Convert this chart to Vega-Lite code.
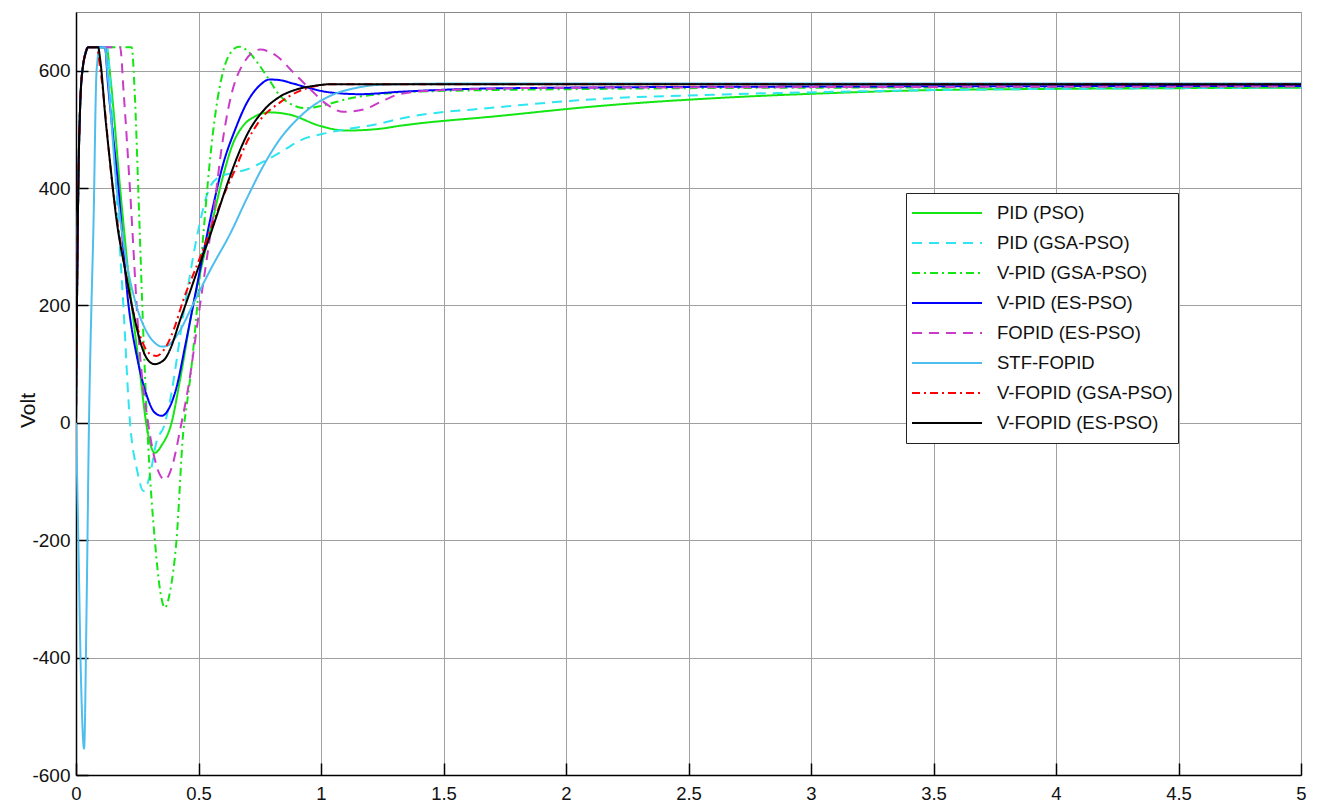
{
  "$schema": "https://vega.github.io/schema/vega-lite/v6.json",
  "width": 1225,
  "height": 763,
  "autosize": {"type": "none"},
  "padding": {"left": 76, "top": 12, "right": 18, "bottom": 30},
  "background": "white",
  "config": {
    "font": "Liberation Sans",
    "view": {"stroke": "#888888", "strokeWidth": 1},
    "axis": {
      "grid": true,
      "gridColor": "#a0a0a0",
      "gridWidth": 1,
      "gridOpacity": 1,
      "domainColor": "#000000",
      "domainWidth": 1.5,
      "tickColor": "#000000",
      "tickSize": -12,
      "tickWidth": 1.5,
      "labelFontSize": 19,
      "labelColor": "#111111",
      "labelFont": "Liberation Sans",
      "labelExpr": "'' + datum.value"
    },
    "legend": {
      "orient": "none",
      "legendX": 830,
      "legendY": 181,
      "strokeColor": "#222222",
      "fillColor": "white",
      "padding": 5,
      "symbolType": "stroke",
      "symbolSize": 4900,
      "symbolStrokeWidth": 2,
      "labelFontSize": 18.5,
      "labelFont": "Liberation Sans",
      "labelColor": "#111111",
      "labelOffset": 14,
      "labelLimit": 400,
      "clipHeight": 30,
      "rowPadding": 0,
      "title": null
    }
  },
  "data": {
    "values": [
      {"t": 0, "v": 0, "s": "PID (PSO)"}, {"t": 0.005, "v": 250, "s": "PID (PSO)"}, {"t": 0.01, "v": 420, "s": "PID (PSO)"}, {"t": 0.017, "v": 540, "s": "PID (PSO)"}, {"t": 0.027, "v": 603, "s": "PID (PSO)"}, {"t": 0.05, "v": 640, "s": "PID (PSO)"}, {"t": 0.125, "v": 640, "s": "PID (PSO)"}, {"t": 0.14, "v": 590, "s": "PID (PSO)"}, {"t": 0.18, "v": 400, "s": "PID (PSO)"}, {"t": 0.227, "v": 202, "s": "PID (PSO)"}, {"t": 0.26, "v": 90, "s": "PID (PSO)"}, {"t": 0.29, "v": -10, "s": "PID (PSO)"}, {"t": 0.322, "v": -51, "s": "PID (PSO)"}, {"t": 0.35, "v": -38, "s": "PID (PSO)"}, {"t": 0.39, "v": 0, "s": "PID (PSO)"}, {"t": 0.424, "v": 72, "s": "PID (PSO)"}, {"t": 0.478, "v": 200, "s": "PID (PSO)"}, {"t": 0.52, "v": 280, "s": "PID (PSO)"}, {"t": 0.56, "v": 350, "s": "PID (PSO)"}, {"t": 0.6, "v": 420, "s": "PID (PSO)"}, {"t": 0.64, "v": 475, "s": "PID (PSO)"}, {"t": 0.68, "v": 505, "s": "PID (PSO)"}, {"t": 0.73, "v": 522, "s": "PID (PSO)"}, {"t": 0.79, "v": 529, "s": "PID (PSO)"}, {"t": 0.873, "v": 525, "s": "PID (PSO)"}, {"t": 0.996, "v": 506, "s": "PID (PSO)"}, {"t": 1.1, "v": 498, "s": "PID (PSO)"}, {"t": 1.24, "v": 501, "s": "PID (PSO)"}, {"t": 1.32, "v": 506, "s": "PID (PSO)"}, {"t": 1.73, "v": 523, "s": "PID (PSO)"}, {"t": 2.14, "v": 540, "s": "PID (PSO)"}, {"t": 2.6, "v": 553, "s": "PID (PSO)"}, {"t": 3.09, "v": 562, "s": "PID (PSO)"}, {"t": 3.5, "v": 567, "s": "PID (PSO)"}, {"t": 4, "v": 569, "s": "PID (PSO)"}, {"t": 5, "v": 571, "s": "PID (PSO)"},

      {"t": 0, "v": 0, "s": "PID (GSA-PSO)"}, {"t": 0.005, "v": 250, "s": "PID (GSA-PSO)"}, {"t": 0.01, "v": 420, "s": "PID (GSA-PSO)"}, {"t": 0.017, "v": 540, "s": "PID (GSA-PSO)"}, {"t": 0.027, "v": 603, "s": "PID (GSA-PSO)"}, {"t": 0.05, "v": 640, "s": "PID (GSA-PSO)"}, {"t": 0.125, "v": 640, "s": "PID (GSA-PSO)"}, {"t": 0.14, "v": 580, "s": "PID (GSA-PSO)"}, {"t": 0.16, "v": 430, "s": "PID (GSA-PSO)"}, {"t": 0.193, "v": 202, "s": "PID (GSA-PSO)"}, {"t": 0.22, "v": 3, "s": "PID (GSA-PSO)"}, {"t": 0.25, "v": -82, "s": "PID (GSA-PSO)"}, {"t": 0.275, "v": -116, "s": "PID (GSA-PSO)"}, {"t": 0.3, "v": -92, "s": "PID (GSA-PSO)"}, {"t": 0.33, "v": -30, "s": "PID (GSA-PSO)"}, {"t": 0.36, "v": -5, "s": "PID (GSA-PSO)"}, {"t": 0.38, "v": 30, "s": "PID (GSA-PSO)"}, {"t": 0.445, "v": 202, "s": "PID (GSA-PSO)"}, {"t": 0.5, "v": 330, "s": "PID (GSA-PSO)"}, {"t": 0.54, "v": 395, "s": "PID (GSA-PSO)"}, {"t": 0.58, "v": 418, "s": "PID (GSA-PSO)"}, {"t": 0.63, "v": 425, "s": "PID (GSA-PSO)"}, {"t": 0.7, "v": 432, "s": "PID (GSA-PSO)"}, {"t": 0.765, "v": 445, "s": "PID (GSA-PSO)"}, {"t": 0.85, "v": 465, "s": "PID (GSA-PSO)"}, {"t": 0.914, "v": 481, "s": "PID (GSA-PSO)"}, {"t": 1.037, "v": 495, "s": "PID (GSA-PSO)"}, {"t": 1.24, "v": 510, "s": "PID (GSA-PSO)"}, {"t": 1.32, "v": 518, "s": "PID (GSA-PSO)"}, {"t": 1.73, "v": 538, "s": "PID (GSA-PSO)"}, {"t": 2.14, "v": 552, "s": "PID (GSA-PSO)"}, {"t": 2.6, "v": 559, "s": "PID (GSA-PSO)"}, {"t": 3.09, "v": 564, "s": "PID (GSA-PSO)"}, {"t": 3.5, "v": 567, "s": "PID (GSA-PSO)"}, {"t": 4, "v": 569, "s": "PID (GSA-PSO)"}, {"t": 5, "v": 571, "s": "PID (GSA-PSO)"},

      {"t": 0, "v": 0, "s": "V-PID (GSA-PSO)"}, {"t": 0.005, "v": 250, "s": "V-PID (GSA-PSO)"}, {"t": 0.01, "v": 420, "s": "V-PID (GSA-PSO)"}, {"t": 0.017, "v": 540, "s": "V-PID (GSA-PSO)"}, {"t": 0.027, "v": 603, "s": "V-PID (GSA-PSO)"}, {"t": 0.05, "v": 640, "s": "V-PID (GSA-PSO)"}, {"t": 0.227, "v": 640, "s": "V-PID (GSA-PSO)"}, {"t": 0.24, "v": 560, "s": "V-PID (GSA-PSO)"}, {"t": 0.254, "v": 400, "s": "V-PID (GSA-PSO)"}, {"t": 0.275, "v": 150, "s": "V-PID (GSA-PSO)"}, {"t": 0.295, "v": -40, "s": "V-PID (GSA-PSO)"}, {"t": 0.322, "v": -201, "s": "V-PID (GSA-PSO)"}, {"t": 0.345, "v": -290, "s": "V-PID (GSA-PSO)"}, {"t": 0.363, "v": -315, "s": "V-PID (GSA-PSO)"}, {"t": 0.385, "v": -285, "s": "V-PID (GSA-PSO)"}, {"t": 0.41, "v": -201, "s": "V-PID (GSA-PSO)"}, {"t": 0.438, "v": -15, "s": "V-PID (GSA-PSO)"}, {"t": 0.452, "v": 30, "s": "V-PID (GSA-PSO)"}, {"t": 0.47, "v": 90, "s": "V-PID (GSA-PSO)"}, {"t": 0.495, "v": 200, "s": "V-PID (GSA-PSO)"}, {"t": 0.52, "v": 322, "s": "V-PID (GSA-PSO)"}, {"t": 0.545, "v": 440, "s": "V-PID (GSA-PSO)"}, {"t": 0.57, "v": 530, "s": "V-PID (GSA-PSO)"}, {"t": 0.6, "v": 598, "s": "V-PID (GSA-PSO)"}, {"t": 0.63, "v": 630, "s": "V-PID (GSA-PSO)"}, {"t": 0.665, "v": 641, "s": "V-PID (GSA-PSO)"}, {"t": 0.7, "v": 634, "s": "V-PID (GSA-PSO)"}, {"t": 0.74, "v": 614, "s": "V-PID (GSA-PSO)"}, {"t": 0.78, "v": 590, "s": "V-PID (GSA-PSO)"}, {"t": 0.833, "v": 557, "s": "V-PID (GSA-PSO)"}, {"t": 0.887, "v": 541, "s": "V-PID (GSA-PSO)"}, {"t": 0.94, "v": 536, "s": "V-PID (GSA-PSO)"}, {"t": 1.0, "v": 540, "s": "V-PID (GSA-PSO)"}, {"t": 1.13, "v": 554, "s": "V-PID (GSA-PSO)"}, {"t": 1.24, "v": 560, "s": "V-PID (GSA-PSO)"}, {"t": 1.36, "v": 564, "s": "V-PID (GSA-PSO)"}, {"t": 2.14, "v": 569, "s": "V-PID (GSA-PSO)"}, {"t": 3, "v": 571, "s": "V-PID (GSA-PSO)"}, {"t": 5, "v": 572, "s": "V-PID (GSA-PSO)"},

      {"t": 0, "v": 0, "s": "V-PID (ES-PSO)"}, {"t": 0.005, "v": 250, "s": "V-PID (ES-PSO)"}, {"t": 0.01, "v": 420, "s": "V-PID (ES-PSO)"}, {"t": 0.017, "v": 540, "s": "V-PID (ES-PSO)"}, {"t": 0.027, "v": 603, "s": "V-PID (ES-PSO)"}, {"t": 0.05, "v": 640, "s": "V-PID (ES-PSO)"}, {"t": 0.118, "v": 640, "s": "V-PID (ES-PSO)"}, {"t": 0.13, "v": 580, "s": "V-PID (ES-PSO)"}, {"t": 0.173, "v": 400, "s": "V-PID (ES-PSO)"}, {"t": 0.214, "v": 202, "s": "V-PID (ES-PSO)"}, {"t": 0.25, "v": 110, "s": "V-PID (ES-PSO)"}, {"t": 0.29, "v": 45, "s": "V-PID (ES-PSO)"}, {"t": 0.32, "v": 18, "s": "V-PID (ES-PSO)"}, {"t": 0.35, "v": 12, "s": "V-PID (ES-PSO)"}, {"t": 0.38, "v": 25, "s": "V-PID (ES-PSO)"}, {"t": 0.41, "v": 60, "s": "V-PID (ES-PSO)"}, {"t": 0.445, "v": 130, "s": "V-PID (ES-PSO)"}, {"t": 0.479, "v": 202, "s": "V-PID (ES-PSO)"}, {"t": 0.52, "v": 290, "s": "V-PID (ES-PSO)"}, {"t": 0.56, "v": 370, "s": "V-PID (ES-PSO)"}, {"t": 0.6, "v": 440, "s": "V-PID (ES-PSO)"}, {"t": 0.65, "v": 500, "s": "V-PID (ES-PSO)"}, {"t": 0.697, "v": 545, "s": "V-PID (ES-PSO)"}, {"t": 0.75, "v": 575, "s": "V-PID (ES-PSO)"}, {"t": 0.79, "v": 585, "s": "V-PID (ES-PSO)"}, {"t": 0.83, "v": 584, "s": "V-PID (ES-PSO)"}, {"t": 0.887, "v": 578, "s": "V-PID (ES-PSO)"}, {"t": 0.955, "v": 570, "s": "V-PID (ES-PSO)"}, {"t": 1.037, "v": 563, "s": "V-PID (ES-PSO)"}, {"t": 1.16, "v": 560, "s": "V-PID (ES-PSO)"}, {"t": 1.32, "v": 564, "s": "V-PID (ES-PSO)"}, {"t": 1.73, "v": 570, "s": "V-PID (ES-PSO)"}, {"t": 3, "v": 573, "s": "V-PID (ES-PSO)"}, {"t": 5, "v": 574, "s": "V-PID (ES-PSO)"},

      {"t": 0, "v": 0, "s": "FOPID (ES-PSO)"}, {"t": 0.005, "v": 250, "s": "FOPID (ES-PSO)"}, {"t": 0.01, "v": 420, "s": "FOPID (ES-PSO)"}, {"t": 0.017, "v": 540, "s": "FOPID (ES-PSO)"}, {"t": 0.027, "v": 603, "s": "FOPID (ES-PSO)"}, {"t": 0.05, "v": 640, "s": "FOPID (ES-PSO)"}, {"t": 0.18, "v": 640, "s": "FOPID (ES-PSO)"}, {"t": 0.195, "v": 560, "s": "FOPID (ES-PSO)"}, {"t": 0.22, "v": 400, "s": "FOPID (ES-PSO)"}, {"t": 0.261, "v": 117, "s": "FOPID (ES-PSO)"}, {"t": 0.295, "v": -2, "s": "FOPID (ES-PSO)"}, {"t": 0.33, "v": -75, "s": "FOPID (ES-PSO)"}, {"t": 0.363, "v": -97, "s": "FOPID (ES-PSO)"}, {"t": 0.395, "v": -70, "s": "FOPID (ES-PSO)"}, {"t": 0.424, "v": -14, "s": "FOPID (ES-PSO)"}, {"t": 0.458, "v": 60, "s": "FOPID (ES-PSO)"}, {"t": 0.506, "v": 200, "s": "FOPID (ES-PSO)"}, {"t": 0.567, "v": 378, "s": "FOPID (ES-PSO)"}, {"t": 0.595, "v": 470, "s": "FOPID (ES-PSO)"}, {"t": 0.629, "v": 550, "s": "FOPID (ES-PSO)"}, {"t": 0.683, "v": 612, "s": "FOPID (ES-PSO)"}, {"t": 0.751, "v": 636, "s": "FOPID (ES-PSO)"}, {"t": 0.819, "v": 625, "s": "FOPID (ES-PSO)"}, {"t": 0.887, "v": 597, "s": "FOPID (ES-PSO)"}, {"t": 0.955, "v": 569, "s": "FOPID (ES-PSO)"}, {"t": 1.023, "v": 543, "s": "FOPID (ES-PSO)"}, {"t": 1.091, "v": 530, "s": "FOPID (ES-PSO)"}, {"t": 1.173, "v": 534, "s": "FOPID (ES-PSO)"}, {"t": 1.24, "v": 546, "s": "FOPID (ES-PSO)"}, {"t": 1.32, "v": 560, "s": "FOPID (ES-PSO)"}, {"t": 1.5, "v": 567, "s": "FOPID (ES-PSO)"}, {"t": 2, "v": 571, "s": "FOPID (ES-PSO)"}, {"t": 5, "v": 573, "s": "FOPID (ES-PSO)"},

      {"t": 0, "v": 0, "s": "STF-FOPID"}, {"t": 0.01, "v": -210, "s": "STF-FOPID"}, {"t": 0.02, "v": -430, "s": "STF-FOPID"}, {"t": 0.033, "v": -555, "s": "STF-FOPID"}, {"t": 0.043, "v": -320, "s": "STF-FOPID"}, {"t": 0.053, "v": 0, "s": "STF-FOPID"}, {"t": 0.063, "v": 200, "s": "STF-FOPID"}, {"t": 0.071, "v": 330, "s": "STF-FOPID"}, {"t": 0.084, "v": 600, "s": "STF-FOPID"}, {"t": 0.098, "v": 640, "s": "STF-FOPID"}, {"t": 0.118, "v": 640, "s": "STF-FOPID"}, {"t": 0.13, "v": 590, "s": "STF-FOPID"}, {"t": 0.166, "v": 400, "s": "STF-FOPID"}, {"t": 0.2, "v": 290, "s": "STF-FOPID"}, {"t": 0.245, "v": 202, "s": "STF-FOPID"}, {"t": 0.28, "v": 162, "s": "STF-FOPID"}, {"t": 0.32, "v": 137, "s": "STF-FOPID"}, {"t": 0.35, "v": 130, "s": "STF-FOPID"}, {"t": 0.37, "v": 131, "s": "STF-FOPID"}, {"t": 0.4, "v": 142, "s": "STF-FOPID"}, {"t": 0.424, "v": 157, "s": "STF-FOPID"}, {"t": 0.48, "v": 204, "s": "STF-FOPID"}, {"t": 0.55, "v": 262, "s": "STF-FOPID"}, {"t": 0.629, "v": 322, "s": "STF-FOPID"}, {"t": 0.697, "v": 382, "s": "STF-FOPID"}, {"t": 0.765, "v": 438, "s": "STF-FOPID"}, {"t": 0.83, "v": 482, "s": "STF-FOPID"}, {"t": 0.9, "v": 516, "s": "STF-FOPID"}, {"t": 0.97, "v": 541, "s": "STF-FOPID"}, {"t": 1.037, "v": 557, "s": "STF-FOPID"}, {"t": 1.16, "v": 572, "s": "STF-FOPID"}, {"t": 1.24, "v": 576, "s": "STF-FOPID"}, {"t": 1.5, "v": 578, "s": "STF-FOPID"}, {"t": 5, "v": 578, "s": "STF-FOPID"},

      {"t": 0, "v": 0, "s": "V-FOPID (GSA-PSO)"}, {"t": 0.005, "v": 250, "s": "V-FOPID (GSA-PSO)"}, {"t": 0.01, "v": 420, "s": "V-FOPID (GSA-PSO)"}, {"t": 0.017, "v": 540, "s": "V-FOPID (GSA-PSO)"}, {"t": 0.027, "v": 603, "s": "V-FOPID (GSA-PSO)"}, {"t": 0.05, "v": 640, "s": "V-FOPID (GSA-PSO)"}, {"t": 0.084, "v": 640, "s": "V-FOPID (GSA-PSO)"}, {"t": 0.1, "v": 600, "s": "V-FOPID (GSA-PSO)"}, {"t": 0.15, "v": 400, "s": "V-FOPID (GSA-PSO)"}, {"t": 0.2, "v": 262, "s": "V-FOPID (GSA-PSO)"}, {"t": 0.225, "v": 205, "s": "V-FOPID (GSA-PSO)"}, {"t": 0.26, "v": 150, "s": "V-FOPID (GSA-PSO)"}, {"t": 0.3, "v": 118, "s": "V-FOPID (GSA-PSO)"}, {"t": 0.329, "v": 114, "s": "V-FOPID (GSA-PSO)"}, {"t": 0.36, "v": 125, "s": "V-FOPID (GSA-PSO)"}, {"t": 0.4, "v": 160, "s": "V-FOPID (GSA-PSO)"}, {"t": 0.437, "v": 208, "s": "V-FOPID (GSA-PSO)"}, {"t": 0.5, "v": 275, "s": "V-FOPID (GSA-PSO)"}, {"t": 0.55, "v": 330, "s": "V-FOPID (GSA-PSO)"}, {"t": 0.6, "v": 385, "s": "V-FOPID (GSA-PSO)"}, {"t": 0.65, "v": 432, "s": "V-FOPID (GSA-PSO)"}, {"t": 0.697, "v": 478, "s": "V-FOPID (GSA-PSO)"}, {"t": 0.75, "v": 515, "s": "V-FOPID (GSA-PSO)"}, {"t": 0.833, "v": 546, "s": "V-FOPID (GSA-PSO)"}, {"t": 0.9, "v": 563, "s": "V-FOPID (GSA-PSO)"}, {"t": 0.969, "v": 573, "s": "V-FOPID (GSA-PSO)"}, {"t": 1.05, "v": 577, "s": "V-FOPID (GSA-PSO)"}, {"t": 1.2, "v": 577, "s": "V-FOPID (GSA-PSO)"}, {"t": 5, "v": 577, "s": "V-FOPID (GSA-PSO)"},

      {"t": 0, "v": 0, "s": "V-FOPID (ES-PSO)"}, {"t": 0.005, "v": 250, "s": "V-FOPID (ES-PSO)"}, {"t": 0.01, "v": 420, "s": "V-FOPID (ES-PSO)"}, {"t": 0.017, "v": 540, "s": "V-FOPID (ES-PSO)"}, {"t": 0.027, "v": 603, "s": "V-FOPID (ES-PSO)"}, {"t": 0.04, "v": 630, "s": "V-FOPID (ES-PSO)"}, {"t": 0.05, "v": 640, "s": "V-FOPID (ES-PSO)"}, {"t": 0.09, "v": 640, "s": "V-FOPID (ES-PSO)"}, {"t": 0.1, "v": 615, "s": "V-FOPID (ES-PSO)"}, {"t": 0.12, "v": 520, "s": "V-FOPID (ES-PSO)"}, {"t": 0.14, "v": 440, "s": "V-FOPID (ES-PSO)"}, {"t": 0.166, "v": 344, "s": "V-FOPID (ES-PSO)"}, {"t": 0.2, "v": 262, "s": "V-FOPID (ES-PSO)"}, {"t": 0.227, "v": 202, "s": "V-FOPID (ES-PSO)"}, {"t": 0.25, "v": 158, "s": "V-FOPID (ES-PSO)"}, {"t": 0.275, "v": 122, "s": "V-FOPID (ES-PSO)"}, {"t": 0.3, "v": 104, "s": "V-FOPID (ES-PSO)"}, {"t": 0.322, "v": 100, "s": "V-FOPID (ES-PSO)"}, {"t": 0.345, "v": 103, "s": "V-FOPID (ES-PSO)"}, {"t": 0.365, "v": 110, "s": "V-FOPID (ES-PSO)"}, {"t": 0.384, "v": 125, "s": "V-FOPID (ES-PSO)"}, {"t": 0.424, "v": 174, "s": "V-FOPID (ES-PSO)"}, {"t": 0.446, "v": 200, "s": "V-FOPID (ES-PSO)"}, {"t": 0.5, "v": 265, "s": "V-FOPID (ES-PSO)"}, {"t": 0.547, "v": 319, "s": "V-FOPID (ES-PSO)"}, {"t": 0.58, "v": 360, "s": "V-FOPID (ES-PSO)"}, {"t": 0.62, "v": 410, "s": "V-FOPID (ES-PSO)"}, {"t": 0.66, "v": 455, "s": "V-FOPID (ES-PSO)"}, {"t": 0.697, "v": 490, "s": "V-FOPID (ES-PSO)"}, {"t": 0.765, "v": 532, "s": "V-FOPID (ES-PSO)"}, {"t": 0.833, "v": 556, "s": "V-FOPID (ES-PSO)"}, {"t": 0.9, "v": 568, "s": "V-FOPID (ES-PSO)"}, {"t": 0.969, "v": 574, "s": "V-FOPID (ES-PSO)"}, {"t": 1.04, "v": 577, "s": "V-FOPID (ES-PSO)"}, {"t": 1.2, "v": 577, "s": "V-FOPID (ES-PSO)"}, {"t": 5, "v": 577, "s": "V-FOPID (ES-PSO)"}
    ]
  },
  "mark": {"type": "line", "strokeWidth": 2, "clip": true, "interpolate": "monotone"},
  "encoding": {
    "x": {
      "field": "t", "type": "quantitative",
      "scale": {"domain": [0, 5], "nice": false, "zero": false},
      "axis": {"values": [0, 0.5, 1, 1.5, 2, 2.5, 3, 3.5, 4, 4.5, 5], "title": null, "labelPadding": 21, "labelFontSize": 18.5, "labelFlush": false}
    },
    "y": {
      "field": "v", "type": "quantitative",
      "scale": {"domain": [-600, 700], "nice": false, "zero": false},
      "axis": {"values": [-600, -400, -200, 0, 200, 400, 600], "title": "Volt", "titleFontSize": 21, "titleFontWeight": "normal", "titleColor": "#111111", "titleX": -48, "titleY": 398, "titleAlign": "center", "titleBaseline": "middle", "titleAngle": -90, "labelPadding": 18}
    },
    "color": {
      "field": "s", "type": "nominal",
      "scale": {
        "domain": ["PID (PSO)", "PID (GSA-PSO)", "V-PID (GSA-PSO)", "V-PID (ES-PSO)", "FOPID (ES-PSO)", "STF-FOPID", "V-FOPID (GSA-PSO)", "V-FOPID (ES-PSO)"],
        "range": ["#14e614", "#2ee6f0", "#14e614", "#0000ff", "#c83cc8", "#4dbeee", "#ff0000", "#000000"]
      },
      "legend": {"title": null}
    },
    "strokeDash": {
      "field": "s", "type": "nominal",
      "scale": {
        "domain": ["PID (PSO)", "PID (GSA-PSO)", "V-PID (GSA-PSO)", "V-PID (ES-PSO)", "FOPID (ES-PSO)", "STF-FOPID", "V-FOPID (GSA-PSO)", "V-FOPID (ES-PSO)"],
        "range": [[1, 0], [10, 7], [8, 4, 2, 4], [1, 0], [10, 7], [1, 0], [8, 4, 2, 4], [1, 0]]
      },
      "legend": {"title": null}
    }
  }
}
